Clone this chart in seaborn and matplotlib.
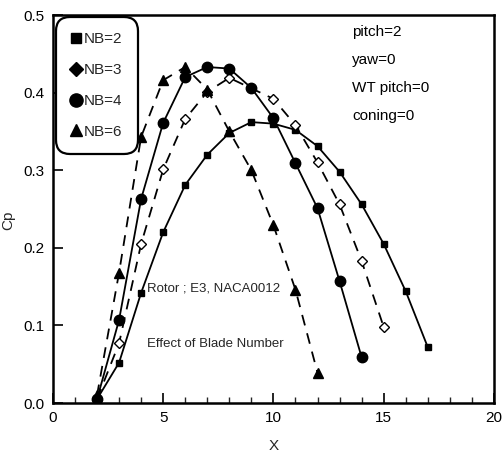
import numpy as np
import pandas as pd
import matplotlib
matplotlib.use("Agg")
import matplotlib.pyplot as plt
import seaborn as sns
from matplotlib.lines import Line2D
from matplotlib.ticker import MultipleLocator

# ---- data ----
x_nb2 = [2, 3, 4, 5, 6, 7, 8, 9, 10, 11, 12, 13, 14, 15, 16, 17]
cp_nb2 = [0.005, 0.052, 0.142, 0.220, 0.281, 0.320, 0.348, 0.362, 0.360, 0.352,
          0.331, 0.298, 0.256, 0.205, 0.144, 0.072]

x_nb3 = [2, 3, 4, 5, 6, 7, 8, 10, 11, 12, 13, 14, 15]
cp_nb3 = [0.005, 0.077, 0.205, 0.301, 0.366, 0.401, 0.419, 0.392, 0.358, 0.310,
          0.256, 0.183, 0.098]

x_nb4 = [2, 3, 4, 5, 6, 7, 8, 9, 10, 11, 12, 13, 14]
cp_nb4 = [0.005, 0.107, 0.263, 0.361, 0.420, 0.433, 0.431, 0.406, 0.367, 0.309,
          0.251, 0.157, 0.059]

x_nb6 = [2, 3, 4, 5, 6, 7, 8, 9, 10, 11, 12]
cp_nb6 = [0.010, 0.168, 0.343, 0.416, 0.433, 0.404, 0.350, 0.300, 0.229, 0.146, 0.039]

labels = ["NB=2", "NB=3", "NB=4", "NB=6"]
params = ["pitch=2", "yaw=0", "WT pitch=0", "coning=0"]
notes = ["Rotor ; E3, NACA0012", "Effect of Blade Number"]

sns.set_theme(style="ticks")
plt.rcParams["font.family"] = ["Liberation Sans", "DejaVu Sans"]

fig = plt.figure(figsize=(5.04, 4.65), dpi=100)
ax = fig.add_axes([0.105, 0.1333, 0.875, 0.8344])

series = [
    (x_nb2, cp_nb2, "s", "-", "black", 5),
    (x_nb3, cp_nb3, "D", "--", "white", 5),
    (x_nb4, cp_nb4, "o", "-", "black", 7.5),
    (x_nb6, cp_nb6, "^", "--", "black", 7),
]

handles = []
for (xs, ys, mk, ls, fc, ms), lab in zip(series, labels):
    df = pd.DataFrame({"X": xs, "Cp": ys})
    sns.lineplot(data=df, x="X", y="Cp", ax=ax, color="black", lw=1.3,
                 linestyle=ls, marker=mk, markersize=ms,
                 markerfacecolor=fc, markeredgecolor="black", markeredgewidth=1.0,
                 legend=False)
    handles.append(Line2D([], [], linestyle="none", marker=mk, markersize=ms + 2,
                          markerfacecolor="black", markeredgecolor="black"))

for line in ax.get_lines():
    if line.get_linestyle() == "--":
        line.set_dashes((6, 4.5))

leg = ax.legend(handles, labels, loc="upper left", bbox_to_anchor=(0.008, 0.995),
                borderaxespad=0, frameon=True, fancybox=True, fontsize=11,
                handlelength=0.6, handletextpad=0.2, labelspacing=1.1,
                borderpad=1.0, framealpha=1)
leg.get_frame().set_edgecolor("black")
leg.get_frame().set_linewidth(1.6)
leg.get_frame().set_boxstyle("round", pad=0.0, rounding_size=0.9)

for i, t in enumerate(params):
    ax.text(0.678, 0.955 - i * 0.072, t, transform=ax.transAxes, fontsize=11,
            ha="left", va="center", color="black")

ax.text(0.214, 0.295, notes[0], transform=ax.transAxes, fontsize=9.5,
        ha="left", va="center")
ax.text(0.214, 0.152, notes[1], transform=ax.transAxes, fontsize=9.5,
        ha="left", va="center")

ax.set_xlim(0, 20)
ax.set_ylim(0, 0.5)
ax.set_xticks([0, 5, 10, 15, 20])
ax.set_yticks([0.0, 0.1, 0.2, 0.3, 0.4, 0.5])
ax.set_yticklabels(["0.0", "0.1", "0.2", "0.3", "0.4", "0.5"])
ax.xaxis.set_minor_locator(MultipleLocator(1))
ax.tick_params(axis="both", which="major", direction="in", length=7, width=1.2,
               labelsize=11, color="black", labelcolor="black", pad=6)
ax.tick_params(axis="x", which="minor", direction="in", length=4, width=1)
ax.set_xlabel("X", fontsize=11, labelpad=10)
ax.set_ylabel("Cp", fontsize=11)
ax.yaxis.set_label_coords(-0.085, 0.47)
for s in ax.spines.values():
    s.set_visible(True)
    s.set_linewidth(1.8)
    s.set_color("black")

fig.savefig("out.png", dpi=100)
